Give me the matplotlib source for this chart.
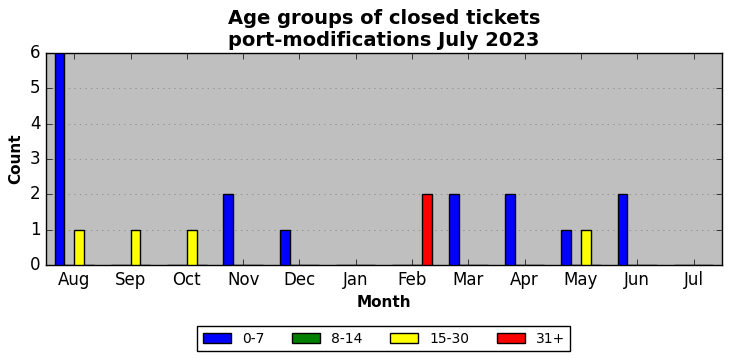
import numpy as np
import matplotlib as mpl
mpl.use('Agg')
import matplotlib.pyplot as plt

months = ['Aug', 'Sep', 'Oct', 'Nov', 'Dec', 'Jan', 'Feb', 'Mar', 'Apr', 'May', 'Jun', 'Jul']
groups = ['0-7', '8-14', '15-30', '31+']
colors = ['blue', 'green', 'yellow', 'red']

age_0_7 = [6, 0, 0, 2, 1, 0, 0, 2, 2, 1, 2, 0]
age_8_14 = [0, 0, 0, 0, 0, 0, 0, 0, 0, 0, 0, 0]
age_15_30 = [1, 1, 1, 0, 0, 0, 0, 0, 0, 1, 0, 0]
age_31_plus = [0, 0, 0, 0, 0, 0, 2, 0, 0, 0, 0, 0]

plt.style.use('classic')
fg = plt.figure(figsize=(7.32, 3.61), dpi=100)
fg.subplots_adjust(left=0.063, right=0.986, top=0.853, bottom=0.266)
ax = fg.gca()
ax.set_facecolor('#bfbfbf')

x = np.arange(len(months))
w = 0.175
series = [age_0_7, age_8_14, age_15_30, age_31_plus]
for i, (vals, lab, col) in enumerate(zip(series, groups, colors)):
    ax.bar(x + (i - 1.5) * w, vals, w, color=col, edgecolor='black', label=lab, zorder=3)

ax.set_xlim(-0.5, len(months) - 0.5)
ax.set_ylim(0, 6)
ax.set_xticks(x)
ax.set_xticklabels(months)
ax.yaxis.grid(True, color='#808080', linestyle=':', zorder=0)
ax.set_axisbelow(True)
ax.set_xlabel('Month', fontweight='bold', fontsize=11)
ax.set_ylabel('Count', fontweight='bold', fontsize=11)
ax.set_title('Age groups of closed tickets\nport-modifications July 2023', fontweight='bold', fontsize=14)
ax.legend(loc='upper center', bbox_to_anchor=(0.5, -0.255), ncol=4, fontsize=10,
          fancybox=False, handlelength=2.0, columnspacing=2.0)

fg.savefig('out.png', dpi=100)
